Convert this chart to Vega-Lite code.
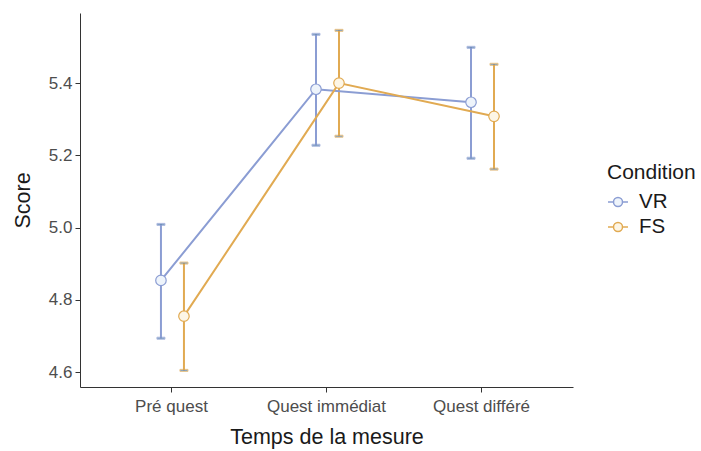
{
  "$schema": "https://vega.github.io/schema/vega-lite/v6.json",
  "width": 493,
  "height": 374,
  "autosize": "none",
  "padding": {"left": 80, "top": 13, "right": 128, "bottom": 64},
  "background": "white",
  "config": {
    "view": {"stroke": null},
    "font": "Liberation Sans",
    "axis": {
      "grid": false,
      "domainColor": "#333333",
      "tickColor": "#333333",
      "labelColor": "#4d4d4d",
      "labelFontSize": 17,
      "titleFontSize": 21.5,
      "titleFontWeight": "normal",
      "titleColor": "#1a1a1a",
      "tickSize": 5,
      "labelPadding": 3
    }
  },
  "data": {
    "values": [
      {"Temps": "Pré quest", "Condition": "VR", "Score": 4.854, "lo": 4.694, "hi": 5.009},
      {"Temps": "Quest immédiat", "Condition": "VR", "Score": 5.383, "lo": 5.228, "hi": 5.535},
      {"Temps": "Quest différé", "Condition": "VR", "Score": 5.347, "lo": 5.192, "hi": 5.499},
      {"Temps": "Pré quest", "Condition": "FS", "Score": 4.755, "lo": 4.605, "hi": 4.902},
      {"Temps": "Quest immédiat", "Condition": "FS", "Score": 5.40, "lo": 5.253, "hi": 5.546},
      {"Temps": "Quest différé", "Condition": "FS", "Score": 5.308, "lo": 5.162, "hi": 5.452}
    ]
  },
  "encoding": {
    "x": {
      "field": "Temps",
      "type": "nominal",
      "sort": ["Pré quest", "Quest immédiat", "Quest différé"],
      "scale": {"paddingInner": 0, "paddingOuter": 0.09},
      "axis": {"labelAngle": 0, "title": "Temps de la mesure", "titlePadding": 12, "labelPadding": 6}
    },
    "xOffset": {
      "field": "Condition",
      "type": "nominal",
      "sort": ["VR", "FS"],
      "scale": {"type": "point", "range": [67, 90], "padding": 0}
    },
    "stroke": {
      "field": "Condition",
      "type": "nominal",
      "sort": ["VR", "FS"],
      "scale": {"domain": ["VR", "FS"], "range": ["#8b9dd3", "#e1aa52"]},
      "legend": {
        "orient": "none",
        "legendX": 527,
        "legendY": 149,
        "title": "Condition",
        "titleFontSize": 21,
        "titleFontWeight": "normal",
        "titleColor": "#1a1a1a",
        "titlePadding": 8,
        "labelFontSize": 20.5,
        "labelColor": "#1a1a1a",
        "labelOffset": 10,
        "symbolType": "M-1,0L-0.45,0M0.45,0L1,0M-0.45,0A0.45,0.45 0 1,1 0.45,0A0.45,0.45 0 1,1 -0.45,0Z",
        "symbolSize": 400,
        "symbolStrokeWidth": 1.5,
        "rowPadding": 3,
        "encode": {
          "symbols": {
            "update": {
              "fill": {"signal": "datum.value === 'VR' ? '#f8f8fc' : '#f6f9df'"},
              "stroke": {"signal": "datum.value === 'VR' ? '#8e8eaa' : '#b9c47a'"},
              "fillOpacity": {"value": 1}
            }
          }
        }
      }
    }
  },
  "layer": [
    {
      "mark": {"type": "rule", "strokeWidth": 2},
      "encoding": {
        "y": {"field": "lo", "type": "quantitative"},
        "y2": {"field": "hi"}
      }
    },
    {
      "mark": {"type": "tick", "size": 8, "thickness": 2, "orient": "horizontal"},
      "encoding": {"y": {"field": "lo", "type": "quantitative"}}
    },
    {
      "mark": {"type": "tick", "size": 8, "thickness": 2, "orient": "horizontal"},
      "encoding": {"y": {"field": "hi", "type": "quantitative"}}
    },
    {
      "mark": {"type": "line", "strokeWidth": 2},
      "encoding": {
        "y": {"field": "Score", "type": "quantitative"}
      }
    },
    {
      "mark": {"type": "point", "filled": false, "fillOpacity": 1, "size": 110, "strokeWidth": 1.2, "opacity": 1},
      "encoding": {
        "fill": {
          "field": "Condition",
          "type": "nominal",
          "scale": {"domain": ["VR", "FS"], "range": ["#eef4fb", "#fdf6e6"]},
          "legend": null
        },
        "y": {
          "field": "Score",
          "type": "quantitative",
          "title": "Score",
          "scale": {"domain": [4.559, 5.594], "nice": false, "zero": false},
          "axis": {"values": [4.6, 4.8, 5.0, 5.2, 5.4], "format": ".1f", "titlePadding": 14}
        }
      }
    }
  ]
}
